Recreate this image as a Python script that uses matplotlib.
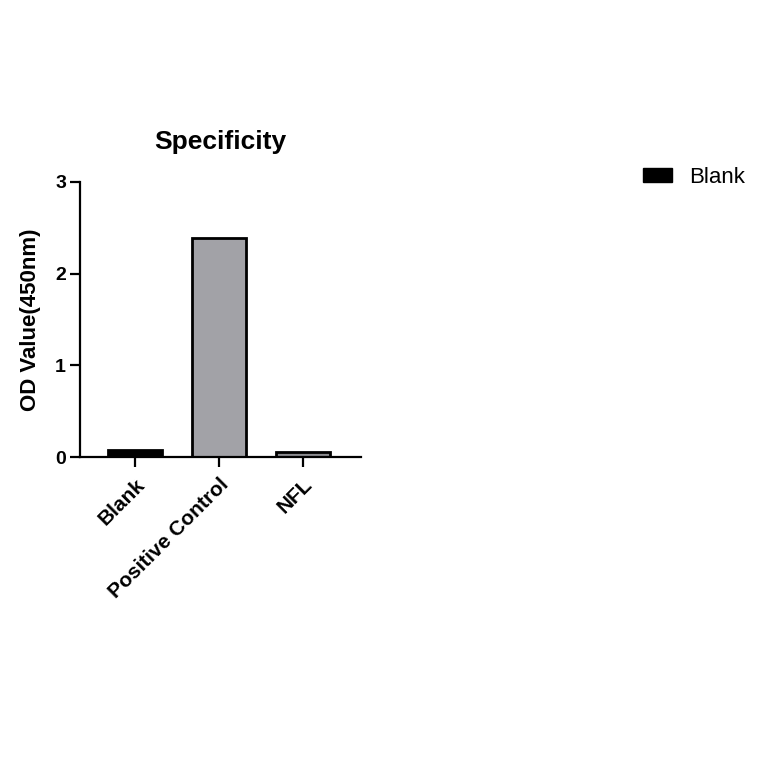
import matplotlib
matplotlib.use("Agg")
import matplotlib.pyplot as plt
from matplotlib.patches import Patch

plt.rcParams['font.family'] = ['Liberation Sans', 'DejaVu Sans']

categories = ["Blank", "Positive Control", "NFL"]
values = [0.08, 2.39, 0.06]
colors = ["#000000", "#a2a2a7", "#8c8c90"]
yticks = [0, 1, 2, 3]

fig = plt.figure(figsize=(7.64, 7.64), dpi=100)
ax = fig.add_axes([0.1047, 0.4018, 0.3678, 0.36])

x = list(range(len(categories)))
ax.bar(x, values, width=0.65, color=colors, edgecolor="black", linewidth=2)
ax.set_xlim(-0.655, 2.69)
ax.set_ylim(0, 3)
ax.set_yticks(yticks)
ax.set_yticklabels([str(t) for t in yticks], fontsize=14, fontweight='bold')
ax.set_xticks(x)
ax.set_xticklabels(categories, rotation=45, ha='right', rotation_mode='anchor',
                   fontsize=15, fontweight='bold')
ax.tick_params(axis='both', width=1.6, length=7, color='black')
ax.tick_params(axis='x', pad=6)
ax.tick_params(axis='y', pad=3)
for s in ['top', 'right']:
    ax.spines[s].set_visible(False)
for s in ['left', 'bottom']:
    ax.spines[s].set_linewidth(1.6)
ax.set_ylabel("OD Value(450nm)", fontsize=16, fontweight='bold', labelpad=10)
ax.set_title("Specificity", fontsize=19, fontweight='bold', pad=24)

fig.legend(handles=[Patch(facecolor='black', edgecolor='black', label='Blank')],
           loc='center left', bbox_to_anchor=(0.842, 0.7675), frameon=False,
           fontsize=16, handlelength=1.3, handleheight=0.6, handletextpad=0.75,
           borderaxespad=0, borderpad=0)

fig.savefig("out.png", dpi=100)
